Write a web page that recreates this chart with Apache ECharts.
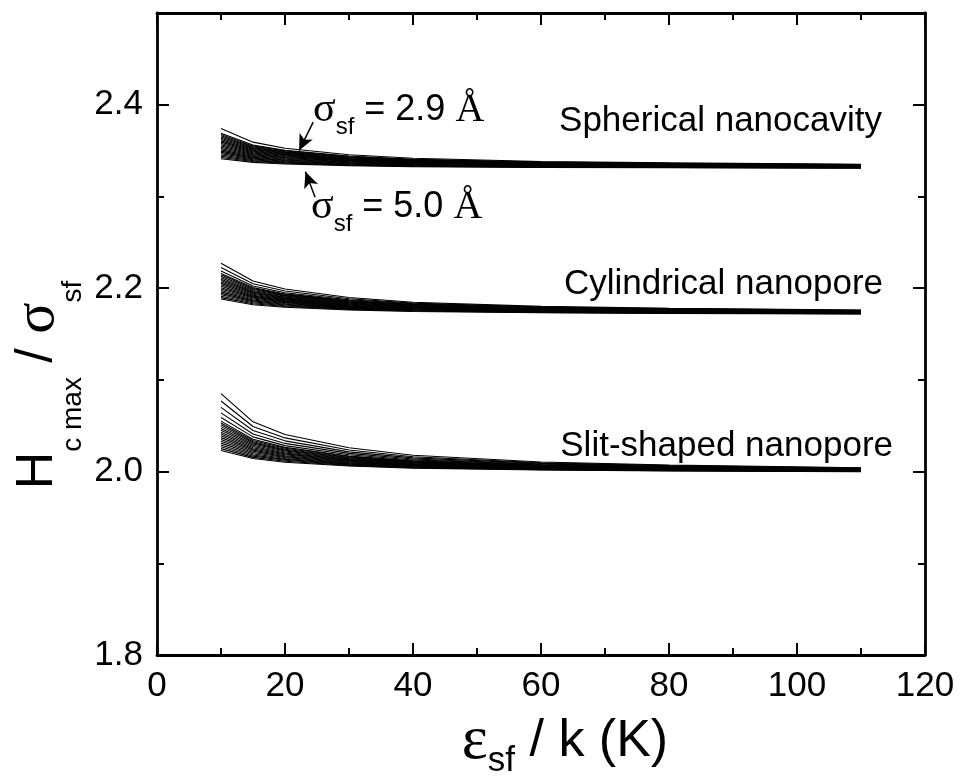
<!DOCTYPE html>
<html>
<head>
<meta charset="utf-8">
<script src="https://cdn.jsdelivr.net/npm/echarts@6/dist/echarts.min.js"></script>
<style>
  html, body { margin: 0; padding: 0; background: #fff; }
  #chart { width: 964px; height: 780px; }
</style>
</head>
<body>
<div id="chart"></div>
<script>
// epsilon_sf / k (K) sampled points
const epsilon = [10, 15, 20, 30, 40, 60, 80, 110];
// one curve per sigma_sf, 2.9 Å (top) .. 5.0 Å (bottom)
const sigmaValues = ['2.9', '3.0', '3.1', '3.2', '3.3', '3.4', '3.5', '3.6', '3.7', '3.8', '3.9',
  '4.0', '4.1', '4.2', '4.3', '4.4', '4.5', '4.6', '4.7', '4.8', '4.9', '5.0'];

const spherical = [
  [2.374, 2.3592, 2.3526, 2.3455, 2.3416, 2.3381, 2.3366, 2.335],
  [2.369, 2.356, 2.3502, 2.344, 2.3406, 2.3375, 2.3362, 2.3348],
  [2.3676, 2.3551, 2.3495, 2.3435, 2.3402, 2.3372, 2.3359, 2.3346],
  [2.3662, 2.3541, 2.3487, 2.343, 2.3398, 2.3369, 2.3357, 2.3344],
  [2.3648, 2.3532, 2.348, 2.3425, 2.3394, 2.3367, 2.3354, 2.3342],
  [2.3634, 2.3522, 2.3472, 2.3419, 2.339, 2.3364, 2.3352, 2.334],
  [2.362, 2.3513, 2.3465, 2.3414, 2.3386, 2.3361, 2.3349, 2.3338],
  [2.3606, 2.3503, 2.3458, 2.3409, 2.3382, 2.3358, 2.3347, 2.3336],
  [2.3592, 2.3494, 2.345, 2.3404, 2.3378, 2.3355, 2.3344, 2.3334],
  [2.3578, 2.3485, 2.3443, 2.3398, 2.3374, 2.3352, 2.3342, 2.3332],
  [2.3564, 2.3475, 2.3435, 2.3393, 2.337, 2.3349, 2.3339, 2.333],
  [2.355, 2.3466, 2.3428, 2.3388, 2.3366, 2.3346, 2.3337, 2.3328],
  [2.3536, 2.3456, 2.3421, 2.3383, 2.3362, 2.3343, 2.3334, 2.3326],
  [2.3522, 2.3447, 2.3413, 2.3378, 2.3358, 2.334, 2.3332, 2.3324],
  [2.3508, 2.3437, 2.3406, 2.3372, 2.3354, 2.3337, 2.3329, 2.3322],
  [2.3494, 2.3428, 2.3398, 2.3367, 2.335, 2.3334, 2.3327, 2.332],
  [2.348, 2.3418, 2.3391, 2.3362, 2.3346, 2.3331, 2.3325, 2.3318],
  [2.3466, 2.3409, 2.3384, 2.3357, 2.3342, 2.3328, 2.3322, 2.3316],
  [2.3452, 2.34, 2.3376, 2.3351, 2.3338, 2.3325, 2.332, 2.3314],
  [2.3438, 2.339, 2.3369, 2.3346, 2.3333, 2.3322, 2.3317, 2.3312],
  [2.3424, 2.3381, 2.3361, 2.3341, 2.3329, 2.3319, 2.3315, 2.331],
  [2.341, 2.3371, 2.3354, 2.3336, 2.3325, 2.3316, 2.3312, 2.3308]
];

const cylindrical = [
  [2.2272, 2.2077, 2.199, 2.1898, 2.1847, 2.1801, 2.1781, 2.176],
  [2.2225, 2.2048, 2.1968, 2.1884, 2.1837, 2.1795, 2.1777, 2.1758],
  [2.2188, 2.2024, 2.195, 2.1873, 2.1829, 2.1791, 2.1773, 2.1756],
  [2.216, 2.2006, 2.1937, 2.1864, 2.1823, 2.1787, 2.177, 2.1754],
  [2.2145, 2.1996, 2.1929, 2.1858, 2.1819, 2.1783, 2.1768, 2.1752],
  [2.2129, 2.1985, 2.1921, 2.1852, 2.1814, 2.178, 2.1765, 2.175],
  [2.2114, 2.1975, 2.1913, 2.1847, 2.181, 2.1777, 2.1763, 2.1748],
  [2.2098, 2.1964, 2.1904, 2.1841, 2.1806, 2.1774, 2.176, 2.1746],
  [2.2083, 2.1954, 2.1897, 2.1836, 2.1802, 2.1771, 2.1758, 2.1744],
  [2.2067, 2.1944, 2.1888, 2.183, 2.1797, 2.1768, 2.1755, 2.1742],
  [2.2052, 2.1933, 2.188, 2.1824, 2.1793, 2.1765, 2.1753, 2.174],
  [2.2036, 2.1923, 2.1872, 2.1819, 2.1789, 2.1762, 2.175, 2.1738],
  [2.2021, 2.1913, 2.1864, 2.1813, 2.1785, 2.1759, 2.1747, 2.1736],
  [2.2005, 2.1902, 2.1856, 2.1807, 2.178, 2.1756, 2.1745, 2.1734],
  [2.199, 2.1892, 2.1848, 2.1802, 2.1776, 2.1753, 2.1742, 2.1732],
  [2.1974, 2.1881, 2.184, 2.1796, 2.1772, 2.175, 2.174, 2.173],
  [2.1959, 2.1871, 2.1832, 2.179, 2.1767, 2.1747, 2.1737, 2.1728],
  [2.1943, 2.1861, 2.1824, 2.1785, 2.1763, 2.1743, 2.1735, 2.1726],
  [2.1928, 2.1851, 2.1816, 2.1779, 2.1759, 2.174, 2.1732, 2.1724],
  [2.1912, 2.184, 2.1808, 2.1773, 2.1754, 2.1737, 2.173, 2.1722],
  [2.1897, 2.183, 2.18, 2.1768, 2.175, 2.1734, 2.1727, 2.172],
  [2.1881, 2.1819, 2.1791, 2.1762, 2.1746, 2.1731, 2.1725, 2.1718]
];

const slit = [
  [2.085, 2.0542, 2.0405, 2.0259, 2.0178, 2.0105, 2.0072, 2.004],
  [2.077, 2.0492, 2.0367, 2.0236, 2.0162, 2.0097, 2.0067, 2.0038],
  [2.070, 2.0448, 2.0335, 2.0215, 2.0149, 2.0089, 2.0063, 2.0036],
  [2.064, 2.041, 2.0307, 2.0198, 2.0137, 2.0083, 2.0058, 2.0034],
  [2.059, 2.0378, 2.0283, 2.0183, 2.0127, 2.0077, 2.0054, 2.0032],
  [2.055, 2.0352, 2.0264, 2.017, 2.0118, 2.0072, 2.0051, 2.003],
  [2.053, 2.0339, 2.0254, 2.0164, 2.0113, 2.0068, 2.0048, 2.0028],
  [2.051, 2.0326, 2.0244, 2.0157, 2.0108, 2.0065, 2.0045, 2.0026],
  [2.049, 2.0313, 2.0234, 2.015, 2.0103, 2.0061, 2.0043, 2.0024],
  [2.047, 2.03, 2.0224, 2.0143, 2.0098, 2.0058, 2.004, 2.0022],
  [2.045, 2.0287, 2.0214, 2.0136, 2.0093, 2.0054, 2.0037, 2.002],
  [2.043, 2.0273, 2.0203, 2.0129, 2.0088, 2.0051, 2.0035, 2.0018],
  [2.041, 2.026, 2.0193, 2.0122, 2.0083, 2.0048, 2.0032, 2.0016],
  [2.039, 2.0247, 2.0183, 2.0116, 2.0078, 2.0044, 2.0029, 2.0014],
  [2.037, 2.0234, 2.0173, 2.0109, 2.0073, 2.0041, 2.0026, 2.0012],
  [2.035, 2.0221, 2.0163, 2.0102, 2.0068, 2.0037, 2.0024, 2.001],
  [2.033, 2.0208, 2.0153, 2.0095, 2.0063, 2.0034, 2.0021, 2.0008],
  [2.031, 2.0195, 2.0143, 2.0088, 2.0058, 2.003, 2.0018, 2.0006],
  [2.029, 2.0181, 2.0133, 2.0081, 2.0053, 2.0027, 2.0015, 2.0004],
  [2.027, 2.0168, 2.0123, 2.0074, 2.0048, 2.0023, 2.0013, 2.0002],
  [2.025, 2.0155, 2.0113, 2.0068, 2.0043, 2.002, 2.001, 2.0],
  [2.023, 2.0142, 2.0102, 2.0061, 2.0037, 2.0017, 2.0007, 1.9998]
];

const xTicks = { min: 0, max: 120, interval: 20 };
const yTicks = { min: 1.8, max: 2.5, interval: 0.2 };

// arrows from the sigma labels onto the spherical band: [tail, tip] in data units
const arrow29 = [[24.4, 2.381], [22.2, 2.350]];
const arrow50 = [[24.7, 2.299], [23.2, 2.327]];

const SANS = 'Liberation Sans, Arial, sans-serif';
const SERIF = 'Liberation Serif, Times New Roman, serif';

const chart = echarts.init(document.getElementById('chart'));

function makeSeries(family, rows) {
  return rows.map((row, i) => ({
    type: 'line',
    name: family + ' ' + sigmaValues[i],
    data: epsilon.map((x, j) => [x, row[j]]),
    symbol: 'none',
    silent: true,
    lineStyle: { color: '#000', width: 1.1 },
    xAxisIndex: 0,
    yAxisIndex: 0,
    z: 3
  }));
}

const series = [].concat(
  makeSeries('spherical', spherical),
  makeSeries('cylindrical', cylindrical),
  makeSeries('slit', slit)
);

series[0].markLine = {
  silent: true,
  symbol: ['none', 'arrow'],
  symbolSize: [11, 16],
  label: { show: false },
  lineStyle: { color: '#000', width: 1.5, type: 'solid' },
  data: [
    [{ coord: arrow29[0] }, { coord: arrow29[1] }],
    [{ coord: arrow50[0] }, { coord: arrow50[1] }]
  ]
};

const axisLine = { show: true, lineStyle: { color: '#000', width: 2.8 } };
const tickStyle = { color: '#000', width: 2 };

function xAxisOf(pos, showLabel) {
  return {
    type: 'value',
    position: pos,
    min: xTicks.min, max: xTicks.max, interval: xTicks.interval,
    axisLine: axisLine,
    axisTick: { show: true, inside: true, length: 12, lineStyle: tickStyle },
    minorTick: { show: true, splitNumber: 2, length: 7, lineStyle: tickStyle },
    axisLabel: { show: showLabel, color: '#000', fontSize: 35, fontFamily: SANS, margin: 14 },
    splitLine: { show: false }
  };
}

function yAxisOf(pos, interval, tickLen, showLine, showLabel) {
  return {
    type: 'value',
    position: pos,
    min: yTicks.min, max: yTicks.max, interval: interval,
    axisLine: Object.assign({}, axisLine, { show: showLine }),
    axisTick: { show: true, inside: true, length: tickLen, lineStyle: tickStyle },
    axisLabel: {
      show: showLabel, color: '#000', fontSize: 35, fontFamily: SANS, margin: 14,
      showMaxLabel: false,
      formatter: v => v.toFixed(1)
    },
    splitLine: { show: false }
  };
}

const sigmaRich = {
  g: { fontFamily: SERIF, fontSize: 42, lineHeight: 58, fill: '#000' },
  m: { fontFamily: SANS, fontSize: 36, lineHeight: 58, fill: '#000' },
  a: { fontFamily: SERIF, fontSize: 40, lineHeight: 58, fill: '#000' },
  s: { fontFamily: SANS, fontSize: 24, lineHeight: 24, verticalAlign: 'bottom', fill: '#000' }
};

chart.setOption({
  animation: false,
  backgroundColor: '#fff',
  grid: { left: 157, right: 39, top: 13, bottom: 125, containLabel: false },
  xAxis: [xAxisOf('bottom', true), xAxisOf('top', false)],
  yAxis: [
    yAxisOf('left', yTicks.interval, 12, true, true),
    yAxisOf('left', 0.1, 7, false, false),
    yAxisOf('right', yTicks.interval, 12, true, false),
    yAxisOf('right', 0.1, 7, false, false)
  ],
  series: series,
  graphic: [
    {
      type: 'text', x: 38, y: 385, rotation: Math.PI / 2,
      style: {
        text: '{m|H}{s|c max}{m| / }{g|σ}{s|sf}',
        align: 'center', verticalAlign: 'middle', fill: '#000',
        rich: {
          m: { fontFamily: SANS, fontSize: 52, lineHeight: 98, fill: '#000' },
          g: { fontFamily: SERIF, fontSize: 58, lineHeight: 98, fill: '#000' },
          s: { fontFamily: SANS, fontSize: 28, lineHeight: 28, verticalAlign: 'bottom', fill: '#000' }
        }
      }
    },
    {
      type: 'text', x: 565, y: 742,
      style: {
        text: '{g|ε}{s|sf}{m| / k (K)}',
        align: 'center', verticalAlign: 'middle', fill: '#000',
        rich: {
          m: { fontFamily: SANS, fontSize: 52, lineHeight: 74, fill: '#000' },
          g: { fontFamily: SERIF, fontSize: 62, lineHeight: 74, fill: '#000' },
          s: { fontFamily: SANS, fontSize: 35, lineHeight: 35, verticalAlign: 'bottom', fill: '#000' }
        }
      }
    },
    {
      type: 'text', x: 882, y: 121,
      style: { text: 'Spherical nanocavity', align: 'right', verticalAlign: 'middle', fill: '#000', font: '35px ' + SANS }
    },
    {
      type: 'text', x: 883, y: 284,
      style: { text: 'Cylindrical nanopore', align: 'right', verticalAlign: 'middle', fill: '#000', font: '35px ' + SANS }
    },
    {
      type: 'text', x: 893, y: 446,
      style: { text: 'Slit-shaped nanopore', align: 'right', verticalAlign: 'middle', fill: '#000', font: '35px ' + SANS }
    },
    {
      type: 'text', x: 313, y: 110,
      style: { text: '{g|σ}{s|sf}{m| = 2.9 }{a|Å}', align: 'left', verticalAlign: 'middle', fill: '#000', rich: sigmaRich }
    },
    {
      type: 'text', x: 311, y: 207,
      style: { text: '{g|σ}{s|sf}{m| = 5.0 }{a|Å}', align: 'left', verticalAlign: 'middle', fill: '#000', rich: sigmaRich }
    }
  ]
});
</script>
</body>
</html>
